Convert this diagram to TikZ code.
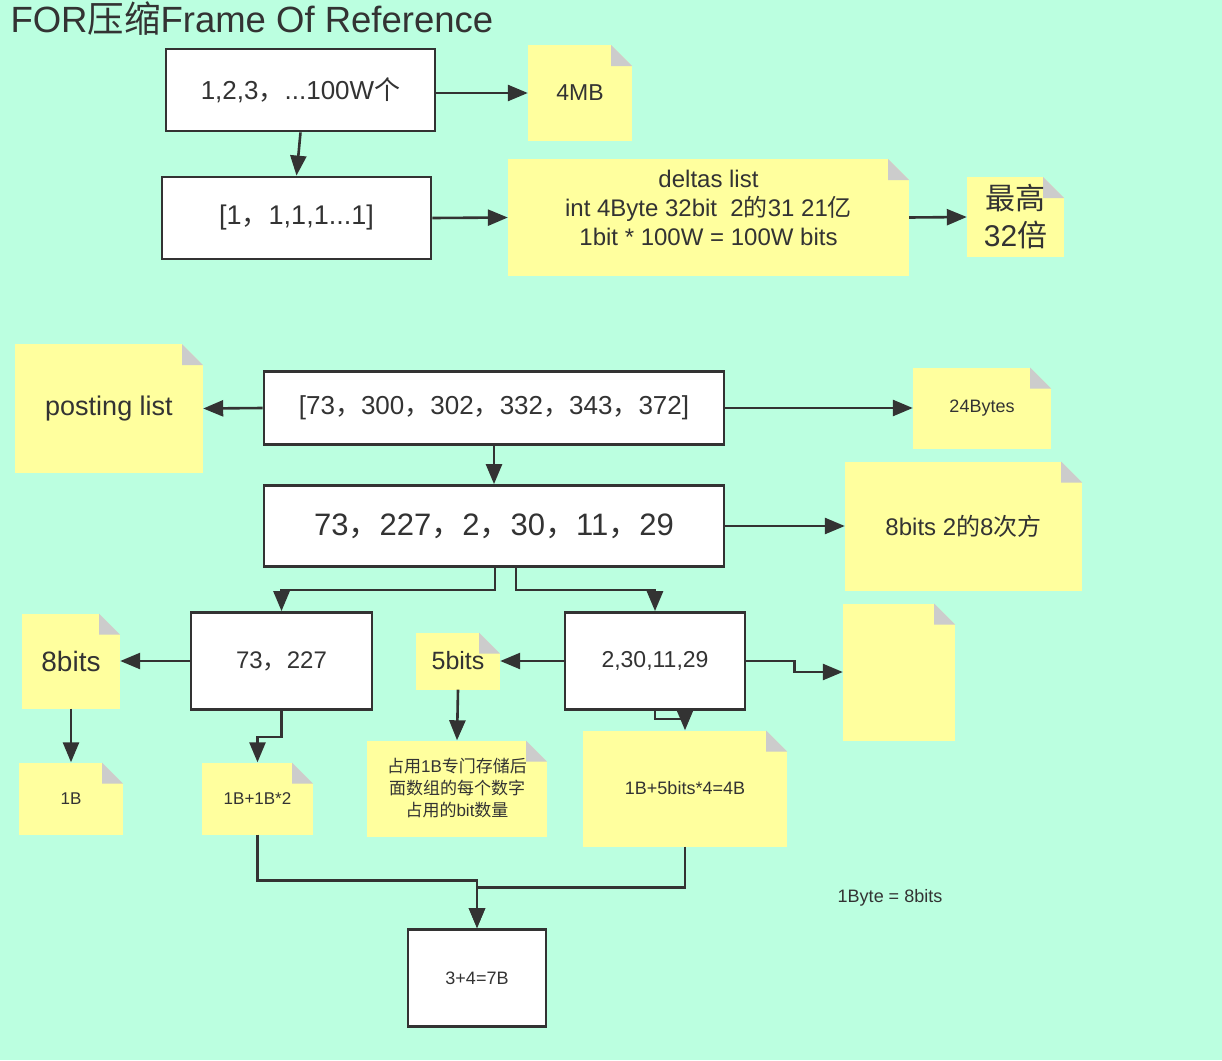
\documentclass[tikz,border=0pt]{standalone}
\usepackage{fontspec}
\setmainfont{Liberation Sans}
\newfontfamily\zh{Noto Sans CJK SC}
\newcommand{\zhc}{{\zh ，}}
\usetikzlibrary{arrows.meta}
\definecolor{mint}{HTML}{BBFFE0}
\definecolor{notey}{HTML}{FFFF9E}
\definecolor{foldg}{HTML}{CCCCCC}
\definecolor{ink}{HTML}{333333}

\begin{document}
\begin{tikzpicture}[x=1pt, y=-1pt,
  box/.style={draw=ink, line width=2.8pt, fill=white, text=ink, inner sep=0pt},
  note/.style={fill=notey, text=ink, inner sep=0pt, align=center,
    path picture={
      \fill[mint] ([xshift=-21pt]path picture bounding box.north east) -- (path picture bounding box.north east) -- ([yshift=-21pt]path picture bounding box.north east) -- cycle;
      \fill[foldg] ([xshift=-21pt]path picture bounding box.north east) -- ([xshift=-21pt,yshift=-21pt]path picture bounding box.north east) -- ([yshift=-21pt]path picture bounding box.north east) -- cycle;}},
  arr/.style={draw=ink, line width=2.6pt, -{Triangle[length=20pt,width=16pt]}}]
\useasboundingbox (0,0) rectangle (1222,1060);
\fill[mint] (0,0) rectangle (1222,1060);
\node[text=ink, anchor=base west, font=\fontsize{36.5}{43}\selectfont] (title) at (7,32) {FOR{\zh 压缩}Frame Of Reference};

\node[box, minimum width=269pt, minimum height=82pt, font=\fontsize{26}{31}\selectfont] (nums) at (300.5,90) {1,2,3\zhc...100W{\zh 个}};
\node[note, minimum width=104pt, minimum height=96pt, font=\fontsize{23}{28}\selectfont] (mb) at (580,93) {4MB};
\node[box, minimum width=269pt, minimum height=82pt, font=\fontsize{27}{32}\selectfont] (ones) at (296.5,218) {[1\zhc 1,1,1...1]};
\node[note, minimum width=401pt, minimum height=117pt, font=\fontsize{24}{29}\selectfont] (deltas) at (708.5,217.5) {deltas list\\int 4Byte 32bit\ \ 2{\zh 的}31 21{\zh 亿}\\1bit * 100W = 100W bits\\[-9pt]};
\node[note, minimum width=97pt, minimum height=80pt, font=\fontsize{30}{37}\selectfont] (times) at (1015.5,217) {\zh 最高\\32{\zh 倍}};

\node[note, minimum width=188pt, minimum height=129pt, font=\fontsize{27}{32}\selectfont] (plist) at (109,408.5) {posting list};
\node[box, minimum width=460pt, minimum height=73pt, font=\fontsize{26}{31}\selectfont] (raw) at (494,408) {[73\zhc 300\zhc 302\zhc 332\zhc 343\zhc 372]};
\node[note, minimum width=138pt, minimum height=81pt, font=\fontsize{18}{22}\selectfont] (bytes) at (982,408) {24Bytes};
\node[box, minimum width=460pt, minimum height=81pt, font=\fontsize{31}{37}\selectfont] (diffs) at (494,526) {73\zhc 227\zhc 2\zhc 30\zhc 11\zhc 29};
\node[note, minimum width=237pt, minimum height=129pt, font=\fontsize{24}{29}\selectfont] (bits8) at (963.5,526) {8bits 2{\zh 的}8{\zh 次方}};

\node[box, minimum width=181pt, minimum height=97pt, font=\fontsize{24}{29}\selectfont] (first) at (281.5,661) {73\zhc 227};
\node[box, minimum width=180pt, minimum height=97pt, font=\fontsize{23}{28}\selectfont] (rest) at (655,661) {2,30,11,29};
\node[note, minimum width=98pt, minimum height=95pt, font=\fontsize{28}{34}\selectfont] (hdrA) at (71,661) {8bits};
\node[note, minimum width=104pt, minimum height=72pt, font=\fontsize{17}{20}\selectfont] (oneB) at (71,798.5) {1B};
\node[note, minimum width=111pt, minimum height=72pt, font=\fontsize{17}{20}\selectfont] (sumA) at (257.5,798.5) {1B+1B*2};
\node[note, minimum width=84pt, minimum height=57pt, font=\fontsize{25}{30}\selectfont] (hdrB) at (458,661) {5bits};
\node[note, minimum width=180pt, minimum height=96pt, font=\fontsize{17}{22}\selectfont] (hdrnote) at (457,788.5) {{\zh 占用}1B{\zh 专门存储后}\\{\zh 面数组的每个数字}\\{\zh 占用的}bit{\zh 数量}};
\node[note, minimum width=112pt, minimum height=137pt] (blank) at (899,672) {};
\node[note, minimum width=204pt, minimum height=116pt, font=\fontsize{18}{22}\selectfont] (sumB) at (685,788.5) {1B+5bits*4=4B};
\node[box, minimum width=138pt, minimum height=97pt, font=\fontsize{18}{22}\selectfont] (total) at (477,978) {3+4=7B};
\node[text=ink, font=\fontsize{18}{22}\selectfont] (eq) at (890,897.5) {1Byte = 8bits};

\draw[arr] (nums.east |- mb.west) -- (mb.west);
\draw[arr] (nums.south) -- (ones.north);
\draw[arr] (ones.east) -- (deltas.west);
\draw[arr] (deltas.east) -- (times.west);
\draw[arr] (raw.west) -- (plist.east);
\draw[arr] (raw.east) -- (bytes.west);
\draw[arr] (raw.south) -- (diffs.north);
\draw[arr] (diffs.east) -- (bits8.west);
\draw[arr] ([xshift=1pt]diffs.south) -- ++(0,22) -| (first.north);
\draw[arr] ([xshift=22pt]diffs.south) -- ++(0,22) -| (rest.north);
\draw[arr] (first.west) -- (hdrA.east);
\draw[arr] (hdrA.south) -- (oneB.north);
\draw[arr] (first.south) -- ++(0,26) -| (sumA.north);
\draw[arr] (rest.west) -- (hdrB.east);
\draw[arr] (hdrB.south) -- (hdrnote.north);
\draw[arr] (rest.east) -- ++(48,0) |- (blank.west);
\draw[arr] (rest.south) -- ++(0,8) -| (sumB.north);
\draw[arr] (sumA.south) -- ++(0,46) -| (total.north);
\draw[arr] (sumB.south) -- ++(0,41) -| (total.north);
\end{tikzpicture}
\end{document}
